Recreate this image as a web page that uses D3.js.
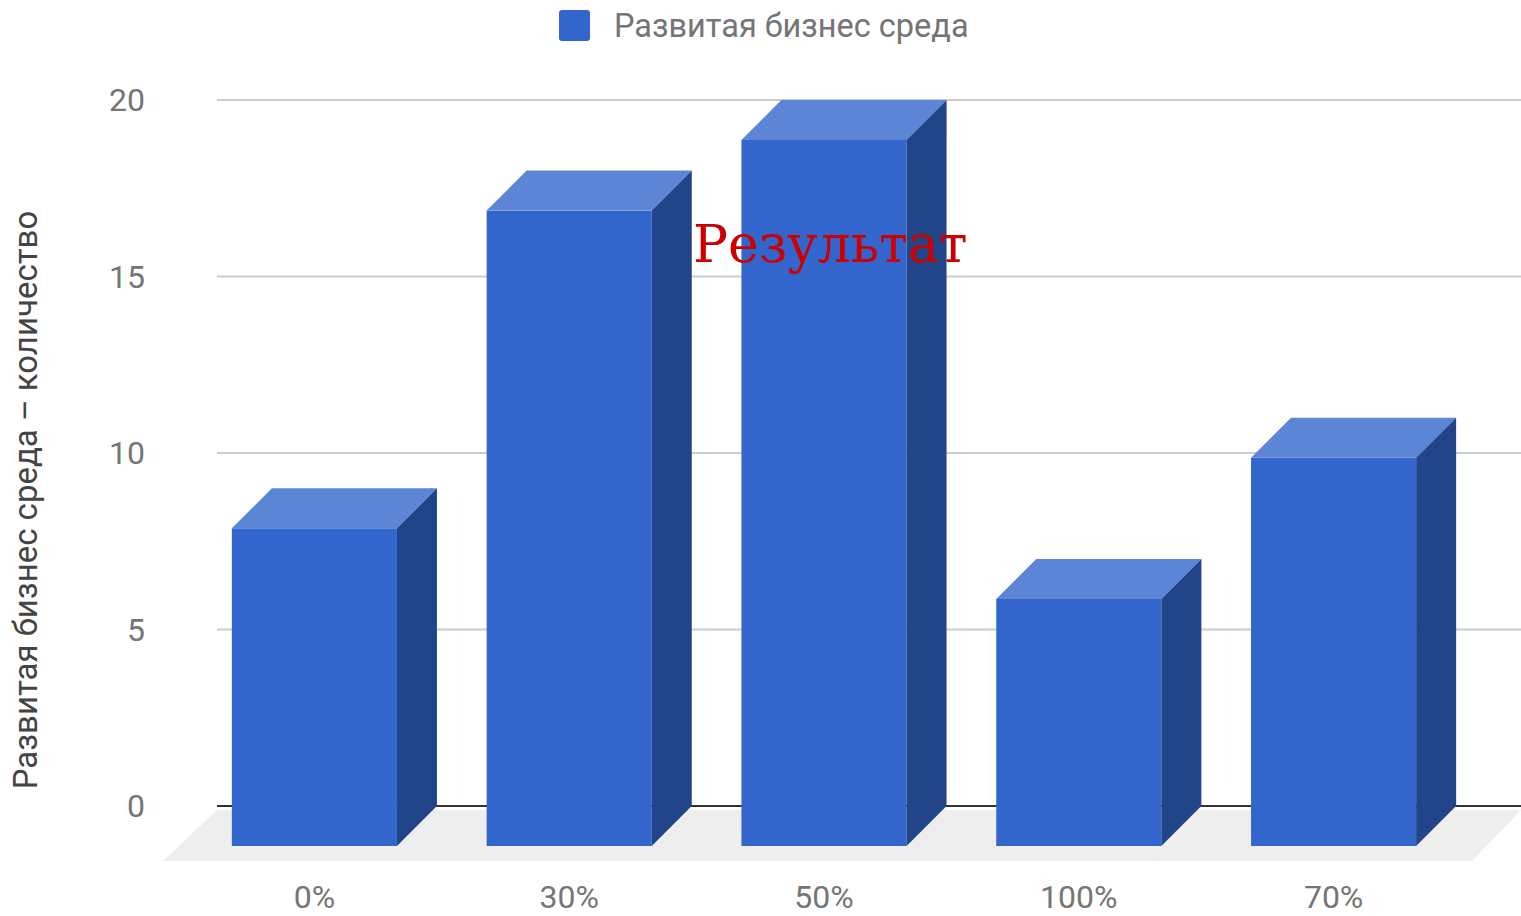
<!DOCTYPE html>
<html>
<head>
<meta charset="utf-8">
<script src="https://cdn.jsdelivr.net/npm/d3@7"></script>
<style>
  body { margin: 0; background: #fff; }
  svg { display: block; font-family: Roboto, "Noto Sans", sans-serif; }
</style>
</head>
<body>
<div id="chart"></div>
<script>
// data
const categories = ["0%", "30%", "50%", "100%", "70%"];
const values = [9, 18, 20, 7, 11];
const yTicks = [0, 5, 10, 15, 20];
const seriesName = "Развитая бизнес среда";
const axisTitle = "Развитая бизнес среда – количество";
const overlayTitle = "Результат";

const width = 1521,
  height = 916,
  depth = 40,
  plotLeft = 217,
  plotRight = 1521;

const svg = d3
  .select("#chart")
  .append("svg")
  .attr("width", width)
  .attr("height", height);

const y = d3.scaleLinear().domain([0, 20]).range([806, 100]);
const x = d3
  .scaleBand()
  .domain(categories)
  .range([187, 1461])
  .paddingInner(0.352)
  .paddingOuter(0.176);

// gridlines
svg
  .append("g")
  .selectAll("line")
  .data(yTicks.filter(d => d !== 0))
  .enter()
  .append("line")
  .attr("x1", plotLeft)
  .attr("x2", plotRight)
  .attr("y1", d => y(d))
  .attr("y2", d => y(d))
  .attr("stroke", "#cccccc")
  .attr("stroke-width", 2);

// floor
const fy0 = y(0) + 4,
  fy1 = y(0) + 55;
svg
  .append("polygon")
  .attr(
    "points",
    [
      [plotLeft, fy0],
      [plotRight, fy0],
      [plotRight - 49, fy1],
      [plotLeft - 54, fy1]
    ].join(" ")
  )
  .attr("fill", "#eeeeee");

// baseline
svg
  .append("line")
  .attr("x1", plotLeft)
  .attr("x2", plotRight)
  .attr("y1", y(0))
  .attr("y2", y(0))
  .attr("stroke", "#333333")
  .attr("stroke-width", 2);

// tick labels
svg
  .append("g")
  .selectAll("text")
  .data(yTicks)
  .enter()
  .append("text")
  .attr("x", 145)
  .attr("y", d => y(d))
  .attr("dy", "0.35em")
  .attr("text-anchor", "end")
  .attr("font-size", 32)
  .attr("fill", "#757575")
  .text(d => d);

// 3d bars
const bars = svg
  .append("g")
  .selectAll("g")
  .data(categories.map((c, i) => ({ c, v: values[i] })))
  .enter()
  .append("g");

const bw = x.bandwidth();
const front = d => ({ x0: x(d.c), x1: x(d.c) + bw, yt: y(d.v) + depth, yb: y(0) + depth });

bars
  .append("rect")
  .attr("x", d => front(d).x0)
  .attr("y", d => front(d).yt)
  .attr("width", bw)
  .attr("height", d => front(d).yb - front(d).yt)
  .attr("fill", "#3366cc");

bars
  .append("polygon")
  .attr("points", d => {
    const f = front(d);
    return [
      [f.x0, f.yt],
      [f.x0 + depth, f.yt - depth],
      [f.x1 + depth, f.yt - depth],
      [f.x1, f.yt]
    ].join(" ");
  })
  .attr("fill", "#5c85d6");

bars
  .append("polygon")
  .attr("points", d => {
    const f = front(d);
    return [
      [f.x1, f.yt],
      [f.x1 + depth, f.yt - depth],
      [f.x1 + depth, f.yb - depth],
      [f.x1, f.yb]
    ].join(" ");
  })
  .attr("fill", "#224488");

// x labels
svg
  .append("g")
  .selectAll("text")
  .data(categories)
  .enter()
  .append("text")
  .attr("x", d => x(d) + bw / 2)
  .attr("y", 897)
  .attr("dy", "0.35em")
  .attr("text-anchor", "middle")
  .attr("font-size", 32)
  .attr("fill", "#757575")
  .text(d => d);

// axis title
svg
  .append("text")
  .attr("transform", "translate(25,500) rotate(-90)")
  .attr("dy", "0.35em")
  .attr("text-anchor", "middle")
  .attr("font-size", 33)
  .attr("fill", "#444444")
  .text(axisTitle);

// legend
svg
  .append("rect")
  .attr("x", 559)
  .attr("y", 10)
  .attr("width", 31)
  .attr("height", 31)
  .attr("rx", 3)
  .attr("fill", "#3366cc");
svg
  .append("text")
  .attr("x", 614)
  .attr("y", 26)
  .attr("dy", "0.35em")
  .attr("font-size", 32.5)
  .attr("fill", "#757575")
  .text(seriesName);

// overlay title
svg
  .append("text")
  .attr("x", 693)
  .attr("y", 262)
  .attr("font-family", "'DejaVu Serif', serif")
  .attr("font-size", 52)
  .attr("fill", "#cc0000")
  .text(overlayTitle);
</script>
</body>
</html>
